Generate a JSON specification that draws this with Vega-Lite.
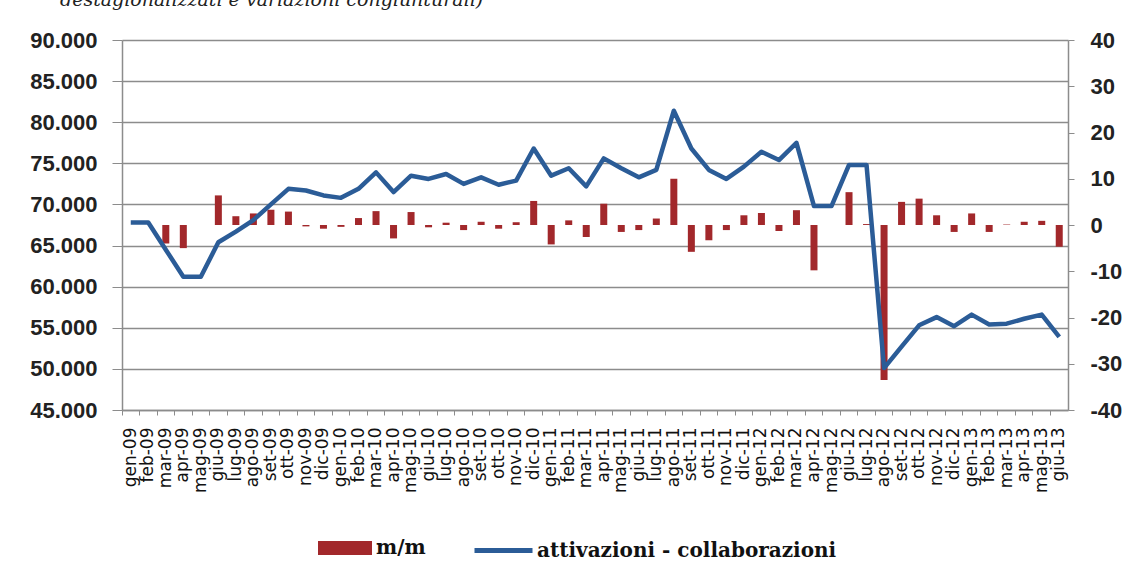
{
  "$schema": "https://vega.github.io/schema/vega-lite/v6.json",
  "autosize": {"type": "none"},
  "padding": {"left": 122, "top": 40, "right": 62, "bottom": 170},
  "width": 946,
  "height": 370,
  "background": "white",
  "title": {
    "text": "destagionalizzati e variazioni congiunturali)",
    "anchor": "start",
    "frame": "group",
    "orient": "top",
    "baseline": "bottom",
    "offset": 0,
    "dx": -62,
    "font": "DejaVu Serif",
    "fontSize": 19,
    "fontWeight": "normal",
    "fontStyle": "italic",
    "color": "#222222"
  },
  "data": {
    "values": [
      {"mese": "gen-09", "attivazioni": 67800, "mm": 0},
      {"mese": "feb-09", "attivazioni": 67800, "mm": 0},
      {"mese": "mar-09", "attivazioni": 64500, "mm": -4.0},
      {"mese": "apr-09", "attivazioni": 61200, "mm": -5.0},
      {"mese": "mag-09", "attivazioni": 61200, "mm": 0},
      {"mese": "giu-09", "attivazioni": 65400, "mm": 6.4},
      {"mese": "lug-09", "attivazioni": 66700, "mm": 1.9},
      {"mese": "ago-09", "attivazioni": 68100, "mm": 2.5},
      {"mese": "set-09", "attivazioni": 70000, "mm": 3.3},
      {"mese": "ott-09", "attivazioni": 71900, "mm": 2.9},
      {"mese": "nov-09", "attivazioni": 71700, "mm": -0.3},
      {"mese": "dic-09", "attivazioni": 71100, "mm": -0.8},
      {"mese": "gen-10", "attivazioni": 70800, "mm": -0.4},
      {"mese": "feb-10", "attivazioni": 71900, "mm": 1.5},
      {"mese": "mar-10", "attivazioni": 73900, "mm": 3.0},
      {"mese": "apr-10", "attivazioni": 71500, "mm": -2.9},
      {"mese": "mag-10", "attivazioni": 73500, "mm": 2.8},
      {"mese": "giu-10", "attivazioni": 73100, "mm": -0.5},
      {"mese": "lug-10", "attivazioni": 73700, "mm": 0.5},
      {"mese": "ago-10", "attivazioni": 72500, "mm": -1.1},
      {"mese": "set-10", "attivazioni": 73300, "mm": 0.7},
      {"mese": "ott-10", "attivazioni": 72400, "mm": -0.8},
      {"mese": "nov-10", "attivazioni": 72900, "mm": 0.6},
      {"mese": "dic-10", "attivazioni": 76800, "mm": 5.2},
      {"mese": "gen-11", "attivazioni": 73500, "mm": -4.2},
      {"mese": "feb-11", "attivazioni": 74400, "mm": 1.0},
      {"mese": "mar-11", "attivazioni": 72200, "mm": -2.6},
      {"mese": "apr-11", "attivazioni": 75600, "mm": 4.6},
      {"mese": "mag-11", "attivazioni": 74400, "mm": -1.5},
      {"mese": "giu-11", "attivazioni": 73300, "mm": -1.1},
      {"mese": "lug-11", "attivazioni": 74200, "mm": 1.4},
      {"mese": "ago-11", "attivazioni": 81400, "mm": 10.0},
      {"mese": "set-11", "attivazioni": 76800, "mm": -5.8},
      {"mese": "ott-11", "attivazioni": 74200, "mm": -3.3},
      {"mese": "nov-11", "attivazioni": 73100, "mm": -1.1},
      {"mese": "dic-11", "attivazioni": 74600, "mm": 2.1},
      {"mese": "gen-12", "attivazioni": 76400, "mm": 2.6},
      {"mese": "feb-12", "attivazioni": 75400, "mm": -1.3},
      {"mese": "mar-12", "attivazioni": 77500, "mm": 3.2},
      {"mese": "apr-12", "attivazioni": 69800, "mm": -9.8},
      {"mese": "mag-12", "attivazioni": 69800, "mm": 0},
      {"mese": "giu-12", "attivazioni": 74800, "mm": 7.1},
      {"mese": "lug-12", "attivazioni": 74800, "mm": 0.2},
      {"mese": "ago-12", "attivazioni": 50100, "mm": -33.5},
      {"mese": "set-12", "attivazioni": 52700, "mm": 5.0},
      {"mese": "ott-12", "attivazioni": 55300, "mm": 5.7},
      {"mese": "nov-12", "attivazioni": 56300, "mm": 2.1},
      {"mese": "dic-12", "attivazioni": 55200, "mm": -1.5},
      {"mese": "gen-13", "attivazioni": 56600, "mm": 2.5},
      {"mese": "feb-13", "attivazioni": 55400, "mm": -1.5},
      {"mese": "mar-13", "attivazioni": 55500, "mm": 0.1},
      {"mese": "apr-13", "attivazioni": 56100, "mm": 0.7},
      {"mese": "mag-13", "attivazioni": 56600, "mm": 0.9},
      {"mese": "giu-13", "attivazioni": 53900, "mm": -4.7}
    ]
  },
  "encoding": {
    "x": {
      "field": "mese",
      "type": "ordinal",
      "sort": null,
      "scale": {"paddingInner": 0, "paddingOuter": 0},
      "axis": {
        "title": null,
        "labelAngle": -90,
        "labelFont": "DejaVu Sans",
        "labelFontSize": 17,
        "labelColor": "#111111",
        "labelOverlap": false,
        "labelBound": false,
        "labelPadding": 12,
        "bandPosition": 0,
        "tickSize": 5,
        "tickColor": "#8c8c8c",
        "domainColor": "#8c8c8c",
        "domainWidth": 1.5,
        "grid": false
      }
    }
  },
  "layer": [
    {
      "mark": {"type": "bar", "width": {"band": 0.4}},
      "encoding": {
        "y": {
          "field": "mm",
          "type": "quantitative",
          "scale": {"domain": [-40, 40], "nice": false, "zero": false},
          "axis": {
            "orient": "right",
            "title": null,
            "values": [-40, -30, -20, -10, 0, 10, 20, 30, 40],
            "labelExpr": "'' + datum.value",
            "labelFont": "Liberation Sans",
            "labelFontWeight": "bold",
            "labelFontSize": 22,
            "labelColor": "#222222",
            "labelPadding": 16,
            "tickSize": 6,
            "tickColor": "#8c8c8c",
            "domainColor": "#8c8c8c",
            "domainWidth": 1.5,
            "grid": false
          }
        },
        "fill": {
          "datum": "m/m",
          "scale": {"range": ["#A2282B"]},
          "legend": {
            "orient": "none",
            "legendX": 196,
            "legendY": 481,
            "title": null,
            "symbolType": "M-1,-0.26H1V0.26H-1Z",
            "symbolSize": 2916,
            "symbolStrokeWidth": 0,
            "labelFont": "DejaVu Serif",
            "labelFontWeight": "bold",
            "labelFontSize": 20,
            "labelColor": "#111111",
            "labelLimit": 600,
            "labelOffset": 4
          }
        }
      }
    },
    {
      "mark": {"type": "line", "strokeWidth": 4.5, "strokeJoin": "round"},
      "encoding": {
        "y": {
          "field": "attivazioni",
          "type": "quantitative",
          "scale": {"domain": [45000, 90000], "nice": false, "zero": false},
          "axis": {
            "orient": "left",
            "title": null,
            "values": [45000, 50000, 55000, 60000, 65000, 70000, 75000, 80000, 85000, 90000],
            "labelExpr": "replace(format(datum.value, ','), ',', '.')",
            "labelFont": "Liberation Sans",
            "labelFontWeight": "bold",
            "labelFontSize": 22,
            "labelColor": "#222222",
            "labelPadding": 15,
            "tickSize": 10,
            "tickColor": "#8c8c8c",
            "domainColor": "#8c8c8c",
            "domainWidth": 1.5,
            "grid": true,
            "gridColor": "#8c8c8c",
            "gridWidth": 1.5
          }
        },
        "stroke": {
          "datum": "attivazioni - collaborazioni",
          "scale": {"range": ["#2B5C97"]},
          "legend": {
            "orient": "none",
            "legendX": 350,
            "legendY": 479,
            "title": null,
            "symbolType": "stroke",
            "symbolSize": 3364,
            "symbolStrokeWidth": 5,
            "labelFont": "DejaVu Serif",
            "labelFontWeight": "bold",
            "labelFontSize": 20,
            "labelColor": "#111111",
            "labelLimit": 600,
            "labelOffset": 2
          }
        }
      }
    }
  ],
  "resolve": {"scale": {"y": "independent"}},
  "config": {
    "view": {"stroke": null}
  }
}
